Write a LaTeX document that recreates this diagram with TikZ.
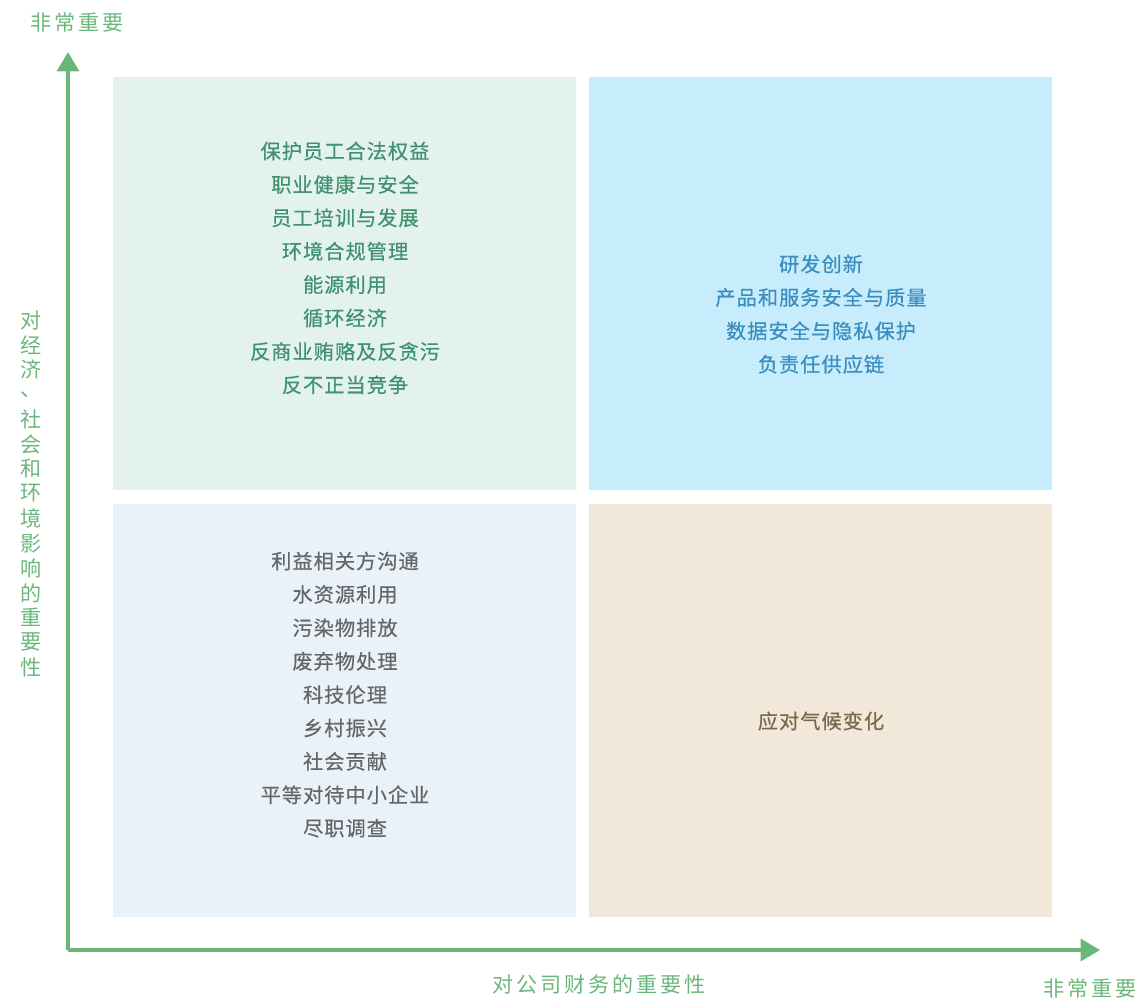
\documentclass[tikz,border=0pt]{standalone}
\usepackage{fontspec}
\newfontfamily\cjk{Noto Sans CJK SC}[LetterSpace=5, FakeBold=0.4]
\newfontfamily\cjkaxis{Noto Sans CJK SC}[LetterSpace=14]
\usetikzlibrary{arrows.meta}
\definecolor{axisgreen}{HTML}{6BB77B}
\definecolor{tlfill}{HTML}{E4F2EE}
\definecolor{tltext}{HTML}{3F9170}
\definecolor{trfill}{HTML}{C7EDFD}
\definecolor{trtext}{HTML}{3A8DBF}
\definecolor{blfill}{HTML}{E9F2F9}
\definecolor{bltext}{HTML}{666666}
\definecolor{brfill}{HTML}{F2E8DA}
\definecolor{brtext}{HTML}{7B6749}
\tikzset{
	item/.style={font=\cjk\fontsize{11.5}{13}\selectfont, inner sep=0pt},
	axislabel/.style={font=\cjkaxis\fontsize{12}{13}\selectfont, inner sep=0pt, text=axisgreen},
	axis/.style={line width=1.8pt, color=axisgreen, -{Triangle[length=11pt,width=12.5pt]}},
}

\begin{document}
\begin{tikzpicture}[x=0.02cm, y=-0.02cm]
			%%%%% START %%%%%
			\useasboundingbox (0, 0) rectangle (1139, 1002);
			
			\fill[tlfill] (113, 77) rectangle (576, 490);
			\fill[trfill] (589, 77) rectangle (1052, 490);
			\fill[blfill] (113, 504) rectangle (576, 917);
			\fill[brfill] (589, 504) rectangle (1052, 917);
			
			\coordinate (origin) at (68, 950);
			\coordinate (ytip) at (68, 52);
			\coordinate (xtip) at (1100, 950);
			\draw[axis] (origin) -- (ytip);
			\draw[axis] (origin) -- (xtip);
			
			\node[axislabel] (ytop) at (77, 22) {非常重要};
			\node[axislabel] (xend) at (1090, 988) {非常重要};
			\node[axislabel] (xname) at (599, 984) {对公司财务的重要性};
			\foreach \c [count=\i] in {对,经,济,、,社,会,和,环,境,影,响,的,重,要,性}
				\node[axislabel] (yname\i) at (31, 320+24.8*\i-24.8) {\c};
			
			\foreach \t [count=\i] in {保护员工合法权益,职业健康与安全,员工培训与发展,环境合规管理,能源利用,循环经济,反商业贿赂及反贪污,反不正当竞争}
				\node[item, text=tltext] (tl\i) at (345, 151+33.4*\i-33.4) {\t};
			
			\foreach \t [count=\i] in {研发创新,产品和服务安全与质量,数据安全与隐私保护,负责任供应链}
				\node[item, text=trtext] (tr\i) at (821, 264+33.4*\i-33.4) {\t};
			
			\foreach \t [count=\i] in {利益相关方沟通,水资源利用,污染物排放,废弃物处理,科技伦理,乡村振兴,社会贡献,平等对待中小企业,尽职调查}
				\node[item, text=bltext] (bl\i) at (345, 561+33.4*\i-33.4) {\t};
			
			\node[item, text=brtext] (br1) at (821, 721) {应对气候变化};
			
			%%%%% END %%%%%
\end{tikzpicture}
\end{document}
